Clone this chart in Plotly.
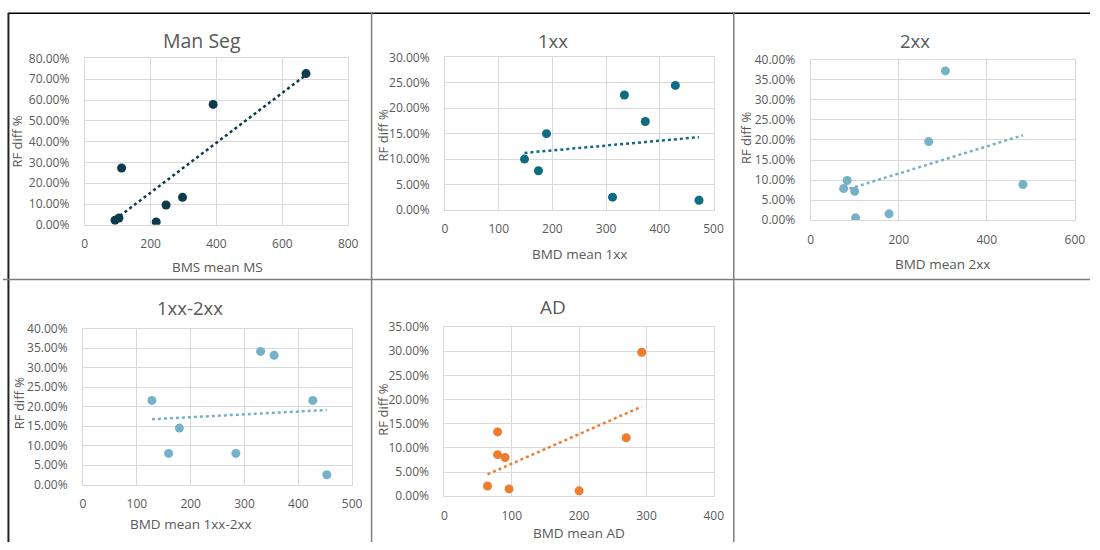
import numpy as np
import plotly.graph_objects as go

# BMD / BMS mean values (x) and RF difference fractions (y) per group
man_seg_x = [92, 104, 112, 217, 247, 297, 390, 672]
man_seg_y = [0.022, 0.033, 0.273, 0.014, 0.095, 0.132, 0.579, 0.727]

g1xx_x = [148, 174, 189, 312, 334, 373, 429, 473]
g1xx_y = [0.100, 0.077, 0.150, 0.025, 0.226, 0.174, 0.245, 0.019]

g2xx_x = [75, 83, 100, 102, 178, 268, 306, 482]
g2xx_y = [0.079, 0.099, 0.072, 0.006, 0.016, 0.196, 0.372, 0.089]

g1xx2xx_x = [128, 159, 179, 284, 330, 355, 427, 453]
g1xx2xx_y = [0.216, 0.080, 0.145, 0.080, 0.342, 0.332, 0.216, 0.025]

ad_x = [64, 79, 79, 90, 96, 200, 270, 293]
ad_y = [0.021, 0.133, 0.086, 0.080, 0.015, 0.011, 0.121, 0.298]

titles = ["Man Seg", "1xx", "2xx", "1xx-2xx", "AD"]
x_titles = ["BMS mean MS", "BMD mean 1xx", "BMD mean 2xx", "BMD mean 1xx-2xx", "BMD mean AD"]
y_title = "RF diff %"

W, H = 1100, 550
TXT = "#595959"
GRID = "#D9D9D9"
FONT = "Open Sans"

panels = [
    dict(x=man_seg_x, y=man_seg_y, color="#0B3B4C", px=(82.7, 349.3), py=(51, 222.7),
         xr=(0, 800), xd=200, yr=(0, 0.8), yd=0.1, tsize=19.5,
         title_xy=(201, 32), xt_xy=(217, 266), yt_xy=(14, 137)),
    dict(x=g1xx_x, y=g1xx_y, color="#0F6B82", px=(447.3, 719), py=(50, 207.3),
         xr=(0, 500), xd=100, yr=(0, 0.3), yd=0.05, tsize=18.5,
         title_xy=(557, 33), xt_xy=(583, 253), yt_xy=(385, 130)),
    dict(x=g2xx_x, y=g2xx_y, color="#76B1C8", px=(817.3, 1084.7), py=(52.3, 218),
         xr=(0, 600), xd=200, yr=(0, 0.4), yd=0.05, tsize=18.5,
         title_xy=(923, 33), xt_xy=(951, 263), yt_xy=(752, 133)),
    dict(x=g1xx2xx_x, y=g1xx2xx_y, color="#76B1C8", px=(81, 353.3), py=(330, 490.7),
         xr=(0, 500), xd=100, yr=(0, 0.4), yd=0.05, tsize=18.5,
         title_xy=(189, 308), xt_xy=(190, 531), yt_xy=(17, 407)),
    dict(x=ad_x, y=ad_y, color="#ED7D31", px=(446.7, 719.3), py=(328.3, 502.7),
         xr=(0, 400), xd=100, yr=(0, 0.35), yd=0.05, tsize=19,
         title_xy=(557, 307), xt_xy=(583, 541), yt_xy=(385, 413)),
]

fig = go.Figure()
annotations = []

for i, p in enumerate(panels):
    n = "" if i == 0 else str(i + 1)
    xa, ya = "x" + n, "y" + n
    # linear trendline over the data range
    slope, icpt = np.polyfit(p["x"], p["y"], 1)
    tx = np.array([min(p["x"]), max(p["x"])])
    fig.add_trace(go.Scatter(x=tx, y=slope * tx + icpt, mode="lines", xaxis=xa, yaxis=ya,
                             line=dict(color=p["color"], width=2.5, dash="dot"),
                             hoverinfo="skip", showlegend=False))
    fig.add_trace(go.Scatter(x=p["x"], y=p["y"], mode="markers", xaxis=xa, yaxis=ya,
                             marker=dict(color=p["color"], size=9),
                             showlegend=False))
    axis_common = dict(showgrid=True, gridcolor=GRID, gridwidth=1, zeroline=False,
                       showline=True, linecolor=GRID, linewidth=1, mirror=True,
                       tickfont=dict(family=FONT, size=12, color=TXT), ticks="",
                       fixedrange=True)
    fig.layout["xaxis" + n] = dict(
        axis_common, domain=[p["px"][0] / W, p["px"][1] / W], range=list(p["xr"]),
        dtick=p["xd"], tick0=0, anchor=ya, ticklabelstandoff=8)
    fig.layout["yaxis" + n] = dict(
        axis_common, domain=[1 - p["py"][1] / H, 1 - p["py"][0] / H], range=list(p["yr"]),
        dtick=p["yd"], tick0=0, tickformat=".2%", anchor=xa, ticklabelstandoff=12)

    annotations.append(dict(text=titles[i], x=p["title_xy"][0] / W, y=1 - p["title_xy"][1] / H,
                            xref="paper", yref="paper", showarrow=False,
                            xanchor="center", yanchor="middle",
                            font=dict(family=FONT, size=p["tsize"], color=TXT)))
    annotations.append(dict(text=x_titles[i], x=p["xt_xy"][0] / W, y=1 - p["xt_xy"][1] / H,
                            xref="paper", yref="paper", showarrow=False,
                            xanchor="center", yanchor="middle",
                            font=dict(family=FONT, size=13.5, color=TXT)))
    annotations.append(dict(text=y_title, x=p["yt_xy"][0] / W, y=1 - p["yt_xy"][1] / H,
                            xref="paper", yref="paper", showarrow=False, textangle=-90,
                            xanchor="center", yanchor="middle",
                            font=dict(family=FONT, size=13, color=TXT)))

# cell borders of the grid layout
def hline(y, x0, x1, color, width):
    return dict(type="line", xref="paper", yref="paper", x0=x0 / W, x1=x1 / W,
                y0=1 - y / H, y1=1 - y / H, line=dict(color=color, width=width))

def vline(x, y0, y1, color, width):
    return dict(type="line", xref="paper", yref="paper", x0=x / W, x1=x / W,
                y0=1 - y0 / H, y1=1 - y1 / H, line=dict(color=color, width=width))

shapes = [
    hline(4.5, 5, W, "#000000", 1.5),
    vline(5.5, 4, H, "#222222", 2),
    vline(373, 4, H, "#7F7F7F", 1.5),
    vline(739.5, 4, H, "#7F7F7F", 1.5),
    hline(279, 0, W, "#7F7F7F", 1.5),
]

fig.update_layout(width=W, height=H, margin=dict(l=0, r=0, t=0, b=0),
                  paper_bgcolor="white", plot_bgcolor="white",
                  annotations=annotations, shapes=shapes,
                  font=dict(family=FONT, color=TXT))

fig.write_html("out.html")
